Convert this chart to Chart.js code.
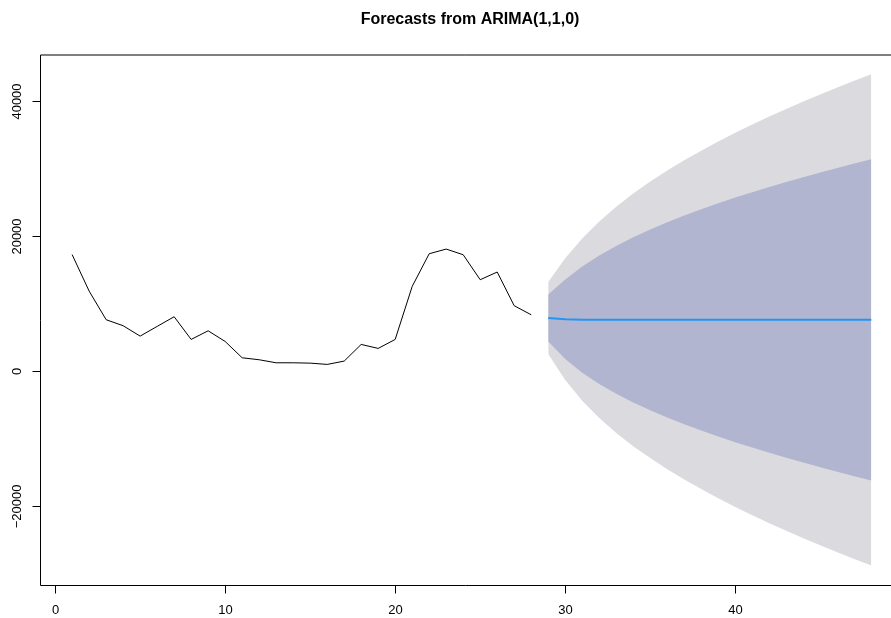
<!DOCTYPE html>
<html>
<head>
<meta charset="utf-8">
<script src="https://cdn.jsdelivr.net/npm/chart.js@4"></script>
<style>
  html, body { margin: 0; padding: 0; background: #ffffff; }
  #wrap { width: 891px; height: 618px; position: relative; }
</style>
</head>
<body>
<div id="wrap"><canvas id="c" width="891" height="618"></canvas></div>
<script>
// Observed series
const histTimes = [1, 2, 3, 4, 5, 6, 7, 8, 9, 10, 11, 12, 13, 14, 15, 16, 17, 18, 19, 20, 21, 22, 23, 24, 25, 26, 27, 28];
const histValues = [17300, 11900, 7660, 6770, 5230, 6670, 8100, 4740, 6020, 4440, 2020, 1730, 1280, 1280, 1230, 1040, 1530, 4000, 3410, 4740, 12590, 17430, 18120, 17280, 13580, 14720, 9730, 8390];

// ARIMA(1,1,0) point forecasts and prediction intervals
const fcTimes = [29, 30, 31, 32, 33, 34, 35, 36, 37, 38, 39, 40, 41, 42, 43, 44, 45, 46, 47, 48];
const fcMean = [7908, 7734, 7671, 7649, 7641, 7638, 7637, 7637, 7636, 7636, 7636, 7636, 7636, 7636, 7636, 7636, 7636, 7636, 7636, 7636];
const upper80 = [11398, 13626, 15528, 17164, 18591, 19865, 21023, 22091, 23085, 24020, 24903, 25745, 26547, 27319, 28059, 28774, 29468, 30139, 30792, 31424];
const lower80 = [4418, 1842, -186, -1866, -3309, -4589, -5749, -6817, -7813, -8748, -9631, -10473, -11275, -12047, -12787, -13502, -14196, -14867, -15520, -16152];
const upper95 = [13246, 16744, 19687, 22200, 24387, 26337, 28109, 29742, 31262, 32693, 34043, 35330, 36558, 37737, 38869, 39963, 41025, 42050, 43049, 44016];
const lower95 = [2570, -1276, -4345, -6902, -9105, -11061, -12835, -14468, -15990, -17421, -18771, -20058, -21286, -22465, -23597, -24691, -25753, -26778, -27777, -28744];

// Axis ticks
const xTicks = [0, 10, 20, 30, 40];
const yTicks = [-20000, 0, 20000, 40000];
const titleText = 'Forecasts from ARIMA(1,1,0)';

const pts = (xs, ys) => xs.map((x, i) => ({ x: x, y: ys[i] }));

const FONT = '"Liberation Sans", Arial, Helvetica, sans-serif';

// R-style frame, ticks, labels and title
const baseGraphics = {
  id: 'baseGraphics',
  afterDraw(chart) {
    const ctx = chart.ctx;
    const a = chart.chartArea;
    const xs = chart.scales.x, ys = chart.scales.y;
    ctx.save();
    ctx.strokeStyle = '#000';
    ctx.lineWidth = 1;
    // frame (right side lies outside the canvas)
    ctx.beginPath();
    ctx.moveTo(891, a.top);
    ctx.lineTo(a.left, a.top);
    ctx.lineTo(a.left, a.bottom);
    ctx.lineTo(891, a.bottom);
    ctx.stroke();

    // x axis ticks + labels
    ctx.fillStyle = '#000';
    ctx.font = '13px ' + FONT;
    ctx.textAlign = 'center';
    ctx.textBaseline = 'middle';
    xTicks.forEach(v => {
      const px = Math.round(xs.getPixelForValue(v)) + 0.5;
      ctx.beginPath();
      ctx.moveTo(px, a.bottom);
      ctx.lineTo(px, a.bottom + 8);
      ctx.stroke();
      ctx.fillText(String(v), px, a.bottom + 25);
    });

    // y axis ticks + rotated labels
    yTicks.forEach(v => {
      const py = Math.round(ys.getPixelForValue(v)) + 0.5;
      ctx.beginPath();
      ctx.moveTo(a.left, py);
      ctx.lineTo(a.left - 8, py);
      ctx.stroke();
      ctx.save();
      ctx.translate(a.left - 23, py);
      ctx.rotate(-Math.PI / 2);
      ctx.fillText(v < 0 ? '\u2212' + String(-v) : String(v), 0, 0);
      ctx.restore();
    });

    // title
    ctx.font = 'bold 16px ' + FONT;
    ctx.fillText(titleText, 470, 20);
    ctx.restore();
  }
};

new Chart(document.getElementById('c'), {
  type: 'line',
  data: {
    datasets: [
      { data: pts(fcTimes, upper95), borderWidth: 0, pointRadius: 0, fill: '+1', backgroundColor: '#DBDBDF', order: 6 },
      { data: pts(fcTimes, lower95), borderWidth: 0, pointRadius: 0, fill: false, order: 5 },
      { data: pts(fcTimes, upper80), borderWidth: 0, pointRadius: 0, fill: '+1', backgroundColor: '#B1B5CF', order: 4 },
      { data: pts(fcTimes, lower80), borderWidth: 0, pointRadius: 0, fill: false, order: 3 },
      { data: pts(histTimes, histValues), borderColor: '#000000', borderWidth: 1, pointRadius: 0, fill: false, tension: 0, order: 2 },
      { data: pts(fcTimes, fcMean), borderColor: '#2196F3', borderWidth: 2, pointRadius: 0, fill: false, tension: 0, order: 1 }
    ]
  },
  options: {
    responsive: false,
    animation: false,
    layout: { padding: { left: 40.5, top: 55, right: 0, bottom: 32.5 } },
    plugins: { legend: { display: false }, tooltip: { enabled: false }, title: { display: false } },
    scales: {
      x: { type: 'linear', min: -0.86, max: 49.16, display: false },
      y: { type: 'linear', min: -31700, max: 46860, display: false }
    }
  },
  plugins: [baseGraphics]
});
</script>
</body>
</html>
